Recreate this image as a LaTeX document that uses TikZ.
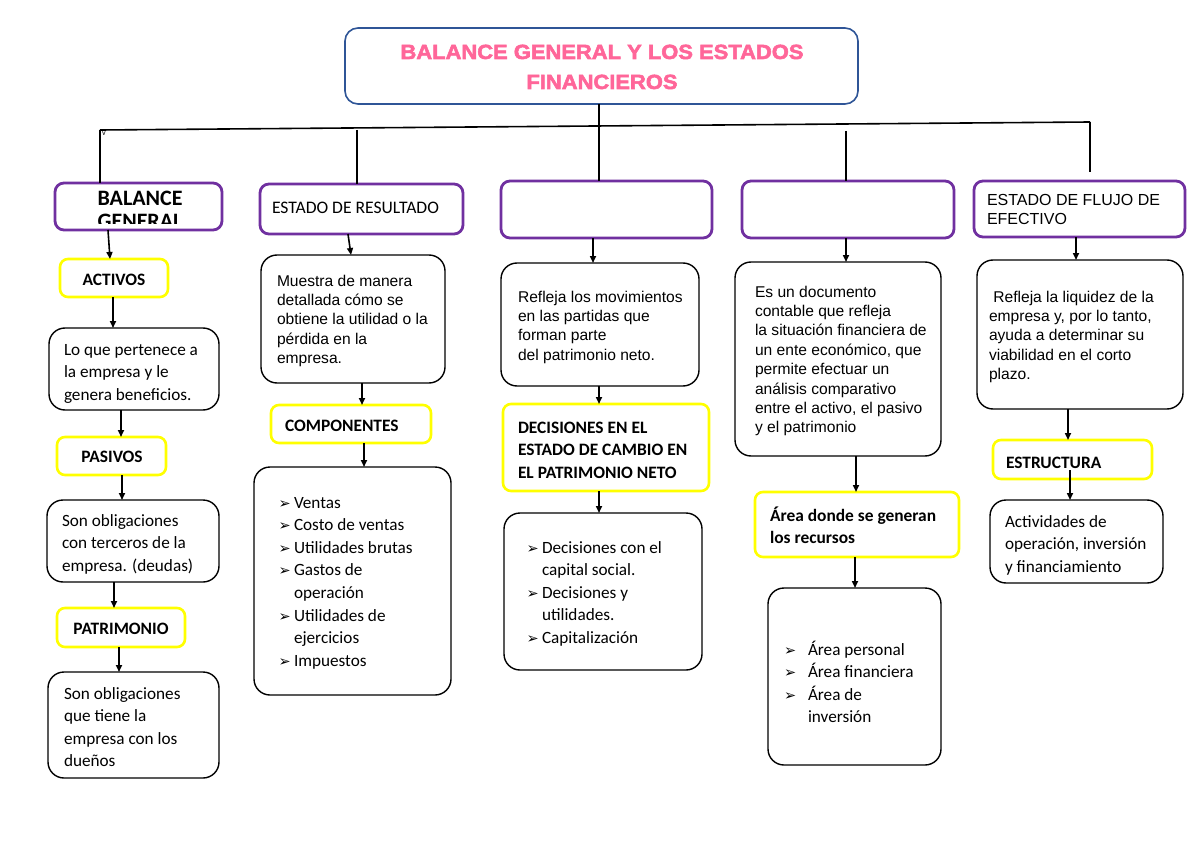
\documentclass[tikz,border=0pt]{standalone}
\usepackage{fontspec}
\setmainfont{Carlito}
\newfontfamily\arialf{Liberation Sans}
\newfontfamily\djv{DejaVu Sans}
\newfontfamily\titlef{Liberation Sans}[BoldFeatures={FakeBold=2.6,FakeStretch=1.07}]
\usetikzlibrary{arrows.meta}
\definecolor{purp}{HTML}{7030A0}
\definecolor{yelb}{HTML}{FFFF00}
\definecolor{blueb}{HTML}{2F5597}
\definecolor{pinkt}{HTML}{FF6699}
\newcommand\lns[1]{\vtop{\halign{##\hfil\cr#1\crcr}}}
\newcommand\lnsc[1]{\vtop{\halign{\hfil##\hfil\cr#1\crcr}}}
\newcommand\bul{\makebox[14pt][l]{\hspace*{-1.5pt}\djv\fontsize{14.5}{14.5}\selectfont ➢}}
\newcommand\bulw{\makebox[23pt][l]{\hspace*{-1pt}\djv\fontsize{14.5}{14.5}\selectfont ➢}}
\newcommand\ind{\hspace*{14pt}}
\newcommand\indw{\hspace*{23pt}}
\newcommand\mybox[6]{\node[#1,minimum width={#4-#2},minimum height={#5-#3}] (#6) at ({(#2+#4)/2},{(#3+#5)/2}) {};}
\tikzset{
  bx/.style={shape=rectangle,inner sep=0pt,outer sep=0pt},
  blk/.style={bx,draw=black,line width=1.4pt,rounded corners=16pt},
  pur/.style={bx,draw=purp,line width=2.8pt,rounded corners=9pt},
  yel/.style={bx,draw=yelb,line width=2.6pt,rounded corners=8pt},
  ttl/.style={bx,draw=blueb,line width=1.6pt,rounded corners=13pt},
  arr/.style={-{Triangle[length=7pt,width=6pt]},line width=1.6pt},
  ln/.style={line width=1.6pt},
  txt/.style={inner sep=0pt,outer sep=0pt,anchor=base west,font=\fontsize{17.2}{22.6}\selectfont},
  txtb/.style={txt,font=\bfseries\fontsize{17.4}{22.8}\selectfont},
  txta/.style={txt,font=\arialf\fontsize{15.6}{19.4}\selectfont},
}
\begin{document}
\begin{tikzpicture}[x=1pt,y=-1pt]
\useasboundingbox[fill=white] (0,0) rectangle (1200,848);
% title
\mybox{ttl}{345}{28}{858}{104}{title}
\node[inner sep=0pt,anchor=base,text=pinkt,font=\titlef\bfseries\fontsize{20.5}{30}\selectfont] (titletxt) at (602,59) {\lnsc{BALANCE GENERAL Y LOS ESTADOS\cr FINANCIEROS}};
% row of purple boxes
\mybox{pur}{55}{183}{222}{230}{b1}
\mybox{pur}{260}{184}{463}{234}{b2}
\mybox{pur}{501}{181}{712}{238}{b3}
\mybox{pur}{742}{181}{954}{238}{b4}
\mybox{pur}{974}{181}{1185}{237}{b5}
\begin{scope}
\clip (58,186) rectangle (219,223);
\node[inner sep=0pt,anchor=base,font=\bfseries\fontsize{22}{24}\selectfont] (b1txt) at (140,205) {\lnsc{BALANCE\cr GENERAL}};
\end{scope}
\node[txt,font=\fontsize{17.6}{22}\selectfont] (b2txt) at (272,214) {ESTADO DE RESULTADO};
\node[txta,font=\arialf\fontsize{16}{19.4}\selectfont] (b5txt) at (987,205) {\lns{ESTADO DE FLUJO DE\cr EFECTIVO}};
% top connectors
\coordinate (hl) at (100,130);
\coordinate (hr) at (1090,122);
\coordinate (h2) at (357,129.9);
\coordinate (h4) at (846,131);
\coordinate (h5e) at (1090,172);
\draw[ln] (hl) -- (hr);
\node[inner sep=0pt,anchor=base west,font=\fontsize{8}{8}\selectfont] (vmark) at (102,136) {v};
\draw[ln] ([xshift=-2.5pt]title.south) -- ([xshift=-7.5pt]b3.north);
\draw[ln] (hl) -- ([xshift=-38.5pt]b1.north);
\draw[ln] (h2) -- ([xshift=-4.5pt]b2.north);
\draw[ln] (h4) -- ([xshift=-2pt]b4.north);
\draw[ln] (hr) -- (h5e);
% column 1
\mybox{yel}{60}{259}{168}{297}{act}
\mybox{blk}{49}{328}{219}{410}{a1}
\mybox{yel}{57}{437}{166}{475}{pas}
\mybox{blk}{47}{500}{219}{582}{a2}
\mybox{yel}{57}{608}{185}{647}{pat}
\mybox{blk}{48}{672}{219}{778}{a3}
\node[txtb,anchor=base] (acttxt) at (114,285) {ACTIVOS};
\node[txtb,anchor=base] (pastxt) at (112,462) {PASIVOS};
\node[txtb,anchor=base] (pattxt) at (121,634) {PATRIMONIO};
\node[txt] (a1txt) at (64,355) {\lns{Lo que pertenece a\cr la empresa y le\cr genera beneficios.}};
\node[txt] (a2txt) at (62,526) {\lns{Son obligaciones\cr con terceros de la\cr empresa. (deudas)}};
\node[txt] (a3txt) at (64,699) {\lns{Son obligaciones\cr que tiene la\cr empresa con los\cr dueños}};
\draw[arr] ([xshift=-30.5pt]b1.south) -- ([xshift=-4pt]act.north);
\draw[arr] ([xshift=-1pt]act.south) -- ([xshift=-21pt]a1.north);
\draw[arr] ([xshift=-13pt]a1.south) -- ([xshift=9.5pt]pas.north);
\draw[arr] ([xshift=10.5pt]pas.south) -- ([xshift=-11pt]a2.north);
\draw[arr] ([xshift=-19pt]a2.south) -- ([xshift=-7pt]pat.north);
\draw[arr] ([xshift=-2pt]pat.south) -- ([xshift=-14.5pt]a3.north);
% column 2
\mybox{blk}{261}{255}{445}{383}{c2a}
\mybox{yel}{271}{405}{431}{443}{comp}
\mybox{blk}{254}{467}{451}{695}{c2b}
\node[txta] (c2atxt) at (277,286) {\lns{Muestra de manera\cr detallada cómo se\cr obtiene la utilidad o la\cr pérdida en la\cr empresa.}};
\node[txtb] (comptxt) at (285,431) {COMPONENTES};
\node[txt] (c2btxt) at (280,508) {\lns{\bul Ventas\cr \bul Costo de ventas\cr \bul Utilidades brutas\cr \bul Gastos de\cr \ind operación\cr \bul Utilidades de\cr \ind ejercicios\cr \bul Impuestos}};
\draw[arr] ([xshift=-13.5pt]b2.south) -- ([xshift=-2pt]c2a.north);
\draw[arr] ([xshift=9pt]c2a.south) -- ([xshift=11pt]comp.north);
\draw[arr] ([xshift=13pt]comp.south) -- ([xshift=11.5pt]c2b.north);
% column 3
\mybox{blk}{501}{263}{699}{386}{c3a}
\mybox{yel}{503}{404}{709}{491}{dec}
\mybox{blk}{504}{513}{702}{670}{c3b}
\node[txta] (c3atxt) at (518,302) {\lns{Refleja los movimientos\cr en las partidas que\cr forman parte\cr del patrimonio neto.}};
\node[txtb] (dectxt) at (518,433) {\lns{DECISIONES EN EL\cr ESTADO DE CAMBIO EN\cr EL PATRIMONIO NETO}};
\node[txt] (c3btxt) at (528,553) {\lns{\bul Decisiones con el\cr \ind capital social.\cr \bul Decisiones y\cr \ind utilidades.\cr \bul Capitalización}};
\draw[arr] ([xshift=-13.5pt]b3.south) -- ([xshift=-7pt]c3a.north);
\draw[arr] ([xshift=-1pt]c3a.south) -- ([xshift=-7pt]dec.north);
\draw[arr] ([xshift=-7pt]dec.south) -- ([xshift=-4pt]c3b.north);
% column 4
\mybox{blk}{735}{262}{941}{456}{c4a}
\mybox{yel}{755}{492}{959}{557}{area}
\mybox{blk}{768}{588}{941}{765}{c4b}
\node[txta] (c4atxt) at (755,297) {\lns{Es un documento\cr contable que refleja\cr la situación financiera de\cr un ente económico, que\cr permite efectuar un\cr análisis comparativo\cr entre el activo, el pasivo\cr y el patrimonio}};
\node[txtb] (areatxt) at (770,521) {\lns{Área donde se generan\cr los recursos}};
\node[txt] (c4btxt) at (785,655) {\lns{\bulw Área personal\cr \bulw Área financiera\cr \bulw Área de\cr \indw inversión}};
\draw[arr] ([xshift=-2pt]b4.south) -- ([xshift=8pt]c4a.north);
\draw[arr] ([xshift=18pt]c4a.south) -- ([xshift=-1pt]area.north);
\draw[arr] ([xshift=-2pt]area.south) -- ([xshift=0.5pt]c4b.north);
% column 5
\mybox{blk}{977}{260}{1183}{409}{c5a}
\mybox{yel}{993}{440}{1152}{479}{estr}
\mybox{blk}{990}{500}{1163}{583}{c5b}
\node[txta] (c5atxt) at (989,302) {\lns{\ Refleja la liquidez de la\cr empresa y, por lo tanto,\cr ayuda a determinar su\cr viabilidad en el corto\cr plazo.}};
\node[txtb] (estrtxt) at (1006,468) {ESTRUCTURA};
\node[txt] (c5btxt) at (1005,527) {\lns{Actividades de\cr operación, inversión\cr y financiamiento}};
\draw[arr] ([xshift=-3.5pt]b5.south) -- ([xshift=-4pt]c5a.north);
\draw[arr] ([xshift=-12pt]c5a.south) -- ([xshift=-4.5pt]estr.north);
\draw[arr] ([xshift=-2.5pt,yshift=9pt]estr.south) -- ([xshift=-6.5pt]c5b.north);
\end{tikzpicture}
\end{document}
